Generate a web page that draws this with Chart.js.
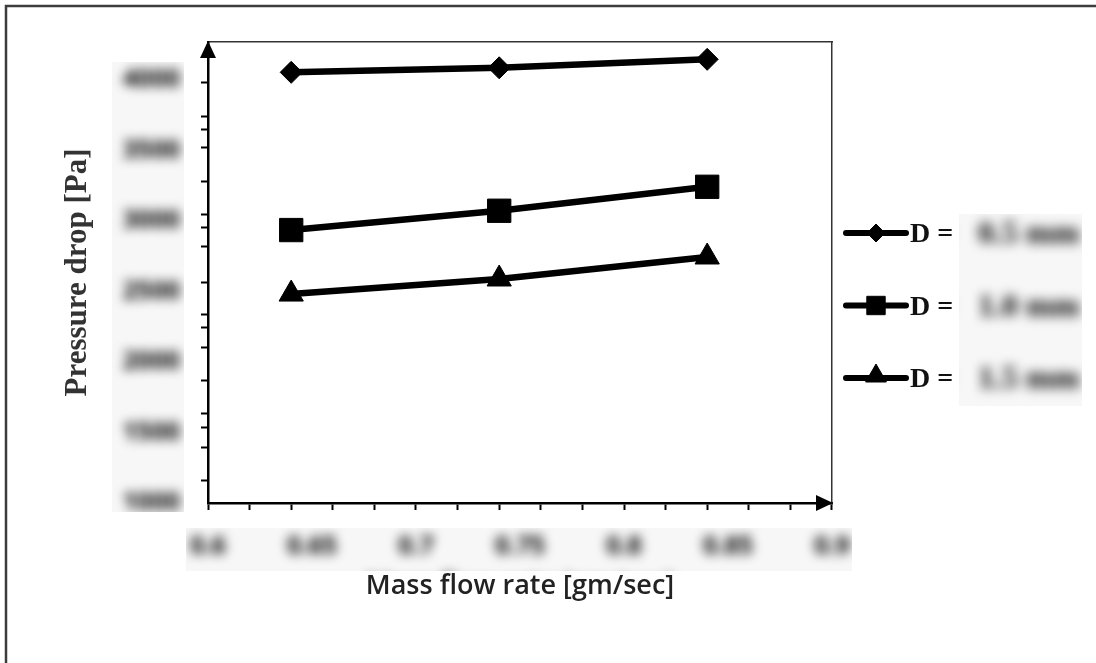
<!DOCTYPE html>
<html>
<head>
<meta charset="utf-8">
<title>Pressure drop vs mass flow rate</title>
<script src="https://cdn.jsdelivr.net/npm/chart.js@4.4.1/dist/chart.umd.min.js"></script>
<style>
  html, body { margin: 0; padding: 0; background: #fff; }
  #wrap { position: relative; width: 1096px; height: 663px; }
</style>
</head>
<body>
<div id="wrap"><canvas id="chart"></canvas></div>
<script>
// Mass flow rate [gm/sec] of the three measurements
const massFlow = [0.64, 0.74, 0.84];

// Pressure drop [Pa] for each channel diameter
const dpSmallD  = [4055, 4087, 4147];
const dpMediumD = [2936, 3073, 3243];
const dpLargeD  = [2482, 2589, 2745];

const seriesLabels = ['D = 0.5 mm', 'D = 1.0 mm', 'D = 1.5 mm'];
const seriesMarkers = ['rectRot', 'rect', 'triangle'];

// Axis labels
const xTickLabels = ['0.6', '0.65', '0.7', '0.75', '0.8', '0.85', '0.9'];
const yTickLabels = ['1000', '1500', '2000', '2500', '3000', '3500', '4000'];

// Minor tick marks on the pressure axis
const yMinorTicks = [1163, 1397, 1539, 1638, 1872, 2106, 2248, 2340, 2567,
                     2816, 2957, 3043, 3277, 3525, 3652, 3745, 3986];

const X_MIN = 0.6, X_MAX = 0.9, X_MINOR_STEP = 0.02;
const Y_MIN = 1000, Y_MAX = 4270;

const SERIF = "'Liberation Serif', 'Times New Roman', serif";
const SANS = "'Open Sans', Lato, sans-serif";

// Soften a rectangular area of the canvas (used for the tick value text)
function softenRegion(chart, x, y, w, h, radius, bg) {
  const ctx = chart.ctx;
  const dpr = chart.currentDevicePixelRatio || 1;
  const m = Math.ceil(radius * 3);
  const off = document.createElement('canvas');
  off.width = Math.round((w + 2 * m) * dpr);
  off.height = Math.round((h + 2 * m) * dpr);
  const octx = off.getContext('2d');
  octx.fillStyle = '#fff';
  octx.fillRect(0, 0, off.width, off.height);
  octx.drawImage(chart.canvas, (x - m) * dpr, (y - m) * dpr, off.width, off.height,
                 0, 0, off.width, off.height);
  ctx.save();
  ctx.beginPath();
  ctx.rect(x, y, w, h);
  ctx.clip();
  ctx.fillStyle = bg;
  ctx.fillRect(x, y, w, h);
  ctx.globalCompositeOperation = 'multiply';
  ctx.filter = 'blur(' + radius + 'px)';
  ctx.drawImage(off, x - m, y - m, w + 2 * m, h + 2 * m);
  ctx.restore();
}

function drawMarker(ctx, style, radius, x, y) {
  if (Chart.helpers && Chart.helpers.drawPoint) {
    Chart.helpers.drawPoint(ctx, { pointStyle: style, radius: radius, rotation: 0, borderWidth: 1 }, x, y);
    return;
  }
  ctx.beginPath();
  if (style === 'rectRot') {
    ctx.moveTo(x, y - radius); ctx.lineTo(x + radius, y); ctx.lineTo(x, y + radius); ctx.lineTo(x - radius, y);
  } else if (style === 'rect') {
    const s = radius * Math.SQRT1_2;
    ctx.rect(x - s, y - s, 2 * s, 2 * s);
  } else {
    ctx.moveTo(x, y - radius);
    ctx.lineTo(x + radius * 0.866, y + radius / 2);
    ctx.lineTo(x - radius * 0.866, y + radius / 2);
  }
  ctx.closePath();
  ctx.fill();
  ctx.stroke();
}

const decorations = {
  id: 'decorations',
  beforeDraw(chart) {
    const ctx = chart.ctx;
    ctx.save();
    ctx.fillStyle = '#fff';
    ctx.fillRect(0, 0, chart.width, chart.height);
    ctx.restore();
  },
  afterDraw(chart) {
    const ctx = chart.ctx;
    const a = chart.chartArea;
    ctx.save();

    // frame along the top and left edges of the page
    ctx.strokeStyle = '#3c3c3c';
    ctx.lineWidth = 2.5;
    ctx.beginPath();
    ctx.moveTo(6, chart.height);
    ctx.lineTo(6, 6);
    ctx.lineTo(chart.width, 6);
    ctx.stroke();

    // axis arrowheads
    ctx.fillStyle = '#000';
    ctx.beginPath();
    ctx.moveTo(a.left, a.top - 1);
    ctx.lineTo(a.left - 8, a.top + 16);
    ctx.lineTo(a.left + 8, a.top + 16);
    ctx.closePath();
    ctx.fill();
    ctx.beginPath();
    ctx.moveTo(a.right + 1, a.bottom);
    ctx.lineTo(a.right - 16, a.bottom - 8);
    ctx.lineTo(a.right - 16, a.bottom + 8);
    ctx.closePath();
    ctx.fill();

    // legend: line sample with marker, then "D =" and the diameter
    const rowY0 = 233, rowGap = 72.5, lx0 = 843, lx1 = 909;
    const legendRadius = { rectRot: 9, rect: 13, triangle: 12 };
    chart.data.datasets.forEach((ds, i) => {
      const y = rowY0 + i * rowGap;
      ctx.strokeStyle = '#000';
      ctx.lineWidth = 6;
      ctx.lineCap = 'round';
      ctx.beginPath();
      ctx.moveTo(lx0 + 3, y);
      ctx.lineTo(lx1 - 3, y);
      ctx.stroke();
      ctx.lineCap = 'butt';
      ctx.lineWidth = 1;
      ctx.fillStyle = '#000';
      drawMarker(ctx, ds.pointStyle, legendRadius[ds.pointStyle], (lx0 + lx1) / 2, ds.pointStyle === 'triangle' ? y - 2 : y);
      const eq = ds.label.indexOf('=') + 1;
      ctx.font = 'bold 28px ' + SERIF;
      ctx.textBaseline = 'middle';
      ctx.textAlign = 'left';
      ctx.fillStyle = '#111';
      ctx.fillText(ds.label.slice(0, eq), 910, y + 2);
      ctx.font = 'bold 32px ' + SERIF;
      ctx.fillStyle = '#000';
      ctx.fillText(ds.label.slice(eq).trim(), 978, y + 2);
    });
    ctx.restore();

    // tick values and diameters are shown softened
    softenRegion(chart, 112, 62, 72, 450, 5.5, '#f7f7f7');
    softenRegion(chart, 186, 528, 666, 43, 5.5, '#f7f7f7');
    softenRegion(chart, 959, 214, 123, 192, 6, '#f7f7f7');
  }
};

function fixedWidth(w) { return (scale) => { scale.width = w; }; }
function fixedHeight(h) { return (scale) => { scale.height = h; }; }

const lineStyle = {
  borderColor: '#000',
  backgroundColor: '#000',
  borderWidth: 6.5,
  pointBackgroundColor: '#000',
  pointBorderColor: '#000',
  pointBorderWidth: 1,
  tension: 0,
  fill: false
};

const toPoints = (ys) => ys.map((y, i) => ({ x: massFlow[i], y: y }));

new Chart(document.getElementById('chart'), {
  type: 'line',
  data: {
    datasets: [
      Object.assign({ label: seriesLabels[0], data: toPoints(dpSmallD),  pointStyle: seriesMarkers[0], pointRadius: 11 }, lineStyle),
      Object.assign({ label: seriesLabels[1], data: toPoints(dpMediumD), pointStyle: seriesMarkers[1], pointRadius: 16.5 }, lineStyle),
      Object.assign({ label: seriesLabels[2], data: toPoints(dpLargeD),  pointStyle: seriesMarkers[2], pointRadius: 14 }, lineStyle)
    ]
  },
  options: {
    responsive: true,
    maintainAspectRatio: false,
    animation: false,
    layout: { padding: 0 },
    plugins: {
      legend: { display: false },
      tooltip: { enabled: false }
    },
    scales: {
      x: {
        type: 'linear', position: 'bottom', weight: 0,
        min: X_MIN, max: X_MAX,
        afterBuildTicks: (scale) => {
          const t = [];
          for (let k = 0; k <= Math.round((X_MAX - X_MIN) / X_MINOR_STEP); k++) {
            t.push({ value: X_MIN + k * X_MINOR_STEP });
          }
          scale.ticks = t;
        },
        ticks: { display: false },
        grid: { display: true, drawOnChartArea: false, drawTicks: true, tickLength: 7, tickWidth: 2, tickColor: '#000' },
        border: { display: true, color: '#000', width: 2.5 },
        afterFit: fixedHeight(24)
      },
      xLabels: {
        type: 'linear', position: 'bottom', weight: 1,
        min: X_MIN, max: X_MAX,
        afterBuildTicks: (scale) => { scale.ticks = xTickLabels.map(l => ({ value: Number(l) })); },
        ticks: {
          callback: (v, i) => xTickLabels[i],
          font: { family: SANS, size: 25, weight: 'bold' },
          color: '#000',
          padding: 5,
          maxRotation: 0,
          autoSkip: false
        },
        grid: { display: false, drawTicks: false },
        border: { display: false },
        title: {
          display: true,
          text: 'Mass flow rate [gm/sec]',
          font: { family: SANS, size: 27, weight: '600' },
          color: '#222',
          padding: { top: 0, bottom: 60 }
        },
        afterFit: fixedHeight(136)
      },
      xTop: {
        type: 'linear', position: 'top',
        min: X_MIN, max: X_MAX,
        ticks: { display: false },
        grid: { display: false, drawTicks: false },
        border: { display: true, color: '#333', width: 1.5 },
        afterFit: fixedHeight(42)
      },
      y: {
        type: 'linear', position: 'left', weight: 0,
        min: Y_MIN, max: Y_MAX,
        afterBuildTicks: (scale) => { scale.ticks = yMinorTicks.map(v => ({ value: v })); },
        ticks: { display: false },
        grid: { display: true, drawOnChartArea: false, drawTicks: true, tickLength: 7, tickWidth: 2, tickColor: '#000' },
        border: { display: true, color: '#000', width: 2.5 },
        afterFit: fixedWidth(25)
      },
      yLabels: {
        type: 'linear', position: 'left', weight: 1,
        min: Y_MIN, max: Y_MAX,
        afterBuildTicks: (scale) => { scale.ticks = yTickLabels.map(l => ({ value: Number(l) })); },
        ticks: {
          callback: (v, i) => yTickLabels[i],
          font: { family: SANS, size: 25, weight: 'bold' },
          color: '#000',
          padding: 3,
          autoSkip: false
        },
        grid: { display: false, drawTicks: false },
        border: { display: false },
        title: {
          display: true,
          text: 'Pressure drop [Pa]',
          font: { family: SERIF, size: 31, weight: 'bold' },
          color: '#333',
          padding: { top: 59, bottom: 0 }
        },
        afterFit: fixedWidth(183)
      },
      yRight: {
        type: 'linear', position: 'right',
        min: Y_MIN, max: Y_MAX,
        ticks: { display: false },
        grid: { display: false, drawTicks: false },
        border: { display: true, color: '#333', width: 1.5 },
        afterFit: fixedWidth(264)
      }
    }
  },
  plugins: [decorations]
});
</script>
</body>
</html>
